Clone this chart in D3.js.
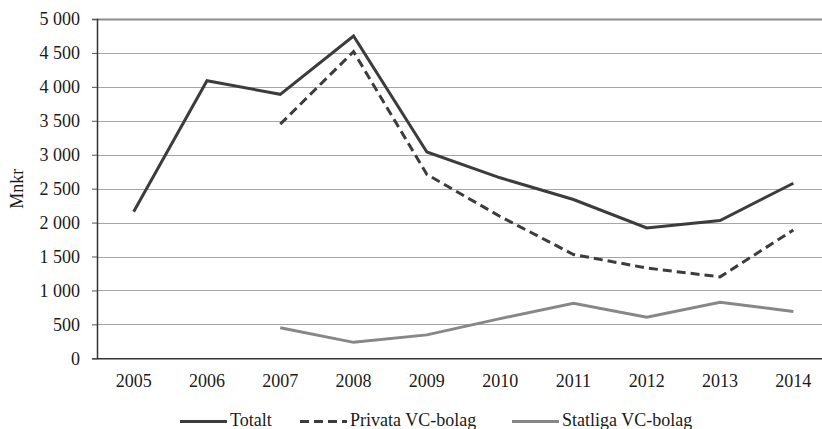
<!DOCTYPE html>
<html>
<head>
<meta charset="utf-8">
<script src="https://cdn.jsdelivr.net/npm/d3@7"></script>
<style>
  html, body { margin: 0; padding: 0; background: #fff; }
  svg { display: block; }
  text { font-family: "Liberation Serif", "DejaVu Serif", serif; fill: #1a1a1a; }
</style>
</head>
<body>
<svg id="chart" width="822" height="429"></svg>
<script>
const years = ["2005","2006","2007","2008","2009","2010","2011","2012","2013","2014"];
const totalt   = [2160, 4090, 3890, 4750, 3040, 2660, 2340, 1920, 2030, 2580];
const privata  = [null, null, 3450, 4520, 2710, 2090, 1530, 1330, 1200, 1890];
const statliga = [null, null, 450, 235, 345, 585, 810, 605, 825, 690];
const seriesNames = ["Totalt", "Privata VC-bolag", "Statliga VC-bolag"];
const yTicks = [0, 500, 1000, 1500, 2000, 2500, 3000, 3500, 4000, 4500, 5000];
const yTitle = "Mnkr";

const svg = d3.select("#chart");
const pLeft = 97, pRight = 830, pTop = 19, pBottom = 358.3;
const fs = "18px";

const x = d3.scaleBand().domain(years).range([pLeft, pRight]).padding(0);
const y = d3.scaleLinear().domain([0, 5000]).range([pBottom, pTop]);

const locale = d3.formatLocale({decimal: ",", thousands: "\u00a0", grouping: [3], currency: ["", " kr"]});
const fmt = locale.format(",d");

// gridlines
svg.append("g").selectAll("line").data(yTicks.filter(d => d > 0)).join("line")
  .attr("x1", pLeft).attr("x2", pRight)
  .attr("y1", d => Math.round(y(d)) + 0.5).attr("y2", d => Math.round(y(d)) + 0.5)
  .attr("stroke", d => d === 5000 ? "#8c8c8c" : "#a6a6a6")
  .attr("stroke-width", d => d === 5000 ? 2 : 1);

// y axis
const yAxis = svg.append("g").attr("transform", `translate(${pLeft},0)`)
  .call(d3.axisLeft(y).tickValues(yTicks).tickSize(5).tickPadding(12).tickFormat(fmt));
yAxis.select(".domain").attr("stroke", "#333").attr("stroke-width", 1.5);
yAxis.selectAll(".tick line").attr("stroke", "#555");
yAxis.selectAll("text").style("font-size", fs).style("font-family", "'Liberation Serif', serif").attr("fill", "#1a1a1a");

// x axis
const xAxis = svg.append("g").attr("transform", `translate(0,${pBottom})`)
  .call(d3.axisBottom(x).tickSize(0).tickPadding(16));
xAxis.select(".domain").attr("stroke", "#333").attr("stroke-width", 1.5);
xAxis.selectAll("text").style("font-size", fs).style("font-family", "'Liberation Serif', serif").attr("fill", "#1a1a1a");

// y title
svg.append("text")
  .attr("transform", `translate(23,${(pTop + pBottom) / 2}) rotate(-90)`)
  .attr("text-anchor", "middle")
  .style("font-size", fs)
  .text(yTitle);

const styles = [
  {color: "#3c3c3c", dash: null},
  {color: "#3c3c3c", dash: "9,5"},
  {color: "#878787", dash: null}
];
const data = [totalt, privata, statliga];

const line = d3.line()
  .defined(d => d != null)
  .x((d, i) => x(years[i]) + x.bandwidth() / 2)
  .y(d => y(d));

data.forEach((s, k) => {
  svg.append("path")
    .datum(s)
    .attr("fill", "none")
    .attr("stroke", styles[k].color)
    .attr("stroke-width", 3)
    .attr("stroke-dasharray", styles[k].dash)
    .attr("stroke-linejoin", "miter")
    .attr("d", line);
});

// legend
const legendX = [180, 300, 512];
const legendY = 421.5;
seriesNames.forEach((name, k) => {
  const g = svg.append("g");
  g.append("line")
    .attr("x1", legendX[k]).attr("x2", legendX[k] + 47)
    .attr("y1", legendY).attr("y2", legendY)
    .attr("stroke", styles[k].color).attr("stroke-width", 3)
    .attr("stroke-dasharray", styles[k].dash);
  g.append("text")
    .attr("x", legendX[k] + 50).attr("y", legendY + 4)
    .style("font-size", fs)
    .text(name);
});
</script>
</body>
</html>
